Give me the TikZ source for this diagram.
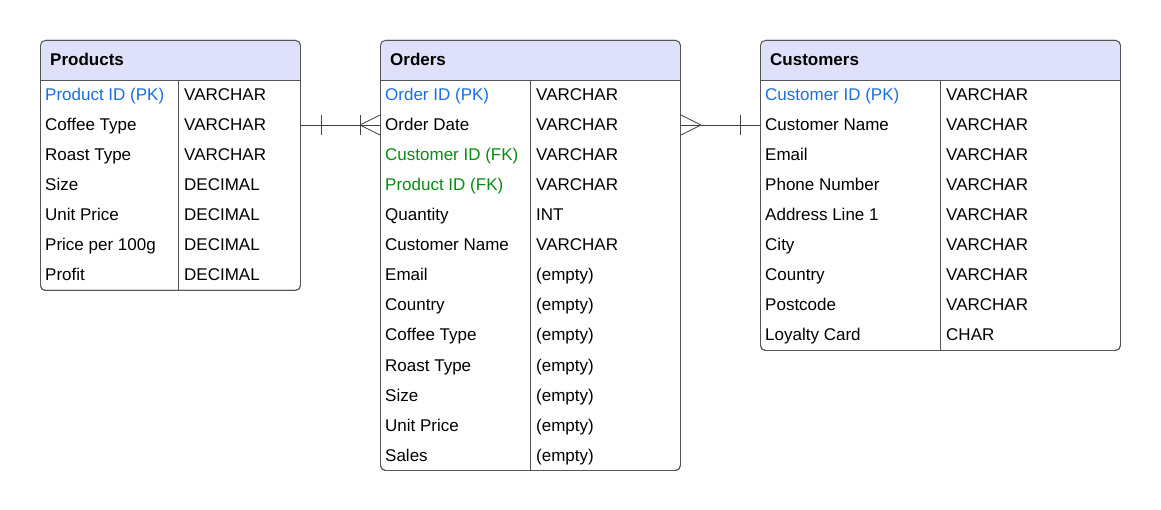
\documentclass[tikz,border=0pt]{standalone}
\usepackage{fontspec}
\setmainfont{Liberation Sans}
\usepackage{tikz}
\usetikzlibrary{calc}

\definecolor{hdrfill}{HTML}{DFE0FA}
\definecolor{framegray}{HTML}{555555}
\definecolor{pkblue}{HTML}{1A6FE0}
\definecolor{fkgreen}{HTML}{0C8A14}

\begin{document}
\begin{tikzpicture}[x=1pt, y=-1pt, font=\fontsize{17}{20}\selectfont,
    tbl/.style={draw=framegray, line width=0.9pt, rounded corners=5pt, anchor=north west, inner sep=0pt},
    hdr/.style={anchor=base west, inner sep=0pt, font=\fontsize{17}{20}\selectfont\bfseries},
    cell/.style={anchor=base west, inner sep=0pt},
    pk/.style={cell, text=pkblue},
    fk/.style={cell, text=fkgreen},
    no/.style={cell},
    rel/.style={draw=black!75, line width=0.8pt}]

    \useasboundingbox[fill=white] (0,0) rectangle (1161,510);

    % Products
    \node[tbl, minimum width=260pt, minimum height=250pt] (P) at (40,40) {};
    \begin{scope}
        \clip[rounded corners=5pt] (40,40) rectangle (300,290);
        \fill[hdrfill] (40,40) rectangle (300,80);
    \end{scope}
    \node[tbl, minimum width=260pt, minimum height=250pt] at (40,40) {};
    \node[hdr] (Ph) at (50,66) {Products};
    \draw[framegray, line width=0.9pt] (40,80) -- (300,80);
    \draw[framegray, line width=0.9pt] (178,80) -- (178,290);
    \foreach \s/\name/\type [count=\i] in {pk/Product ID (PK)/VARCHAR, no/Coffee Type/VARCHAR,
        no/Roast Type/VARCHAR, no/Size/DECIMAL, no/Unit Price/DECIMAL,
        no/Price per 100g/DECIMAL, no/Profit/DECIMAL} {
        \node[\s] (P\i) at (45,71+30*\i) {\name};
        \node[cell] (Pt\i) at (184,71+30*\i) {\type};
    }

    % Orders
    \node[tbl, minimum width=300pt, minimum height=430pt] (O) at (380,40) {};
    \begin{scope}
        \clip[rounded corners=5pt] (380,40) rectangle (680,470);
        \fill[hdrfill] (380,40) rectangle (680,80);
    \end{scope}
    \node[tbl, minimum width=300pt, minimum height=430pt] at (380,40) {};
    \node[hdr] (Oh) at (390,66) {Orders};
    \draw[framegray, line width=0.9pt] (380,80) -- (680,80);
    \draw[framegray, line width=0.9pt] (530,80) -- (530,470);
    \foreach \s/\name/\type [count=\i] in {pk/Order ID (PK)/VARCHAR, no/Order Date/VARCHAR,
        fk/Customer ID (FK)/VARCHAR, fk/Product ID (FK)/VARCHAR, no/Quantity/INT,
        no/Customer Name/VARCHAR, no/Email/(empty), no/Country/(empty),
        no/Coffee Type/(empty), no/Roast Type/(empty), no/Size/(empty),
        no/Unit Price/(empty), no/Sales/(empty)} {
        \node[\s] (O\i) at (385,71+30*\i) {\name};
        \node[cell] (Ot\i) at (536,71+30*\i) {\type};
    }

    % Customers
    \node[tbl, minimum width=360pt, minimum height=310pt] (C) at (760,40) {};
    \begin{scope}
        \clip[rounded corners=5pt] (760,40) rectangle (1120,350);
        \fill[hdrfill] (760,40) rectangle (1120,80);
    \end{scope}
    \node[tbl, minimum width=360pt, minimum height=310pt] at (760,40) {};
    \node[hdr] (Ch) at (770,66) {Customers};
    \draw[framegray, line width=0.9pt] (760,80) -- (1120,80);
    \draw[framegray, line width=0.9pt] (940,80) -- (940,350);
    \foreach \s/\name/\type [count=\i] in {pk/Customer ID (PK)/VARCHAR, no/Customer Name/VARCHAR,
        no/Email/VARCHAR, no/Phone Number/VARCHAR, no/Address Line 1/VARCHAR,
        no/City/VARCHAR, no/Country/VARCHAR, no/Postcode/VARCHAR, no/Loyalty Card/CHAR} {
        \node[\s] (C\i) at (765,71+30*\i) {\name};
        \node[cell] (Ct\i) at (946,71+30*\i) {\type};
    }

    % Products -- Orders (one to many)
    \coordinate (po1) at (P.east |- 0,125);
    \coordinate (po2) at (O.west |- 0,125);
    \draw[rel] (po1) -- (po2);
    \draw[rel] ($(po1)+(20,-10)$) -- ($(po1)+(20,10)$);
    \draw[rel] ($(po2)+(-20,-10)$) -- ($(po2)+(-20,10)$);
    \draw[rel] ($(po2)+(-20,0)$) -- ($(po2)+(0,-10)$);
    \draw[rel] ($(po2)+(-20,0)$) -- ($(po2)+(0,10)$);

    % Orders -- Customers (many to one)
    \coordinate (oc1) at (O.east |- 0,125);
    \coordinate (oc2) at (C.west |- 0,125);
    \draw[rel] (oc1) -- (oc2);
    \draw[rel] ($(oc1)+(20,0)$) -- ($(oc1)+(0,-10)$);
    \draw[rel] ($(oc1)+(20,0)$) -- ($(oc1)+(0,10)$);
    \draw[rel] ($(oc2)+(-20,-10)$) -- ($(oc2)+(-20,10)$);

\end{tikzpicture}
\end{document}
